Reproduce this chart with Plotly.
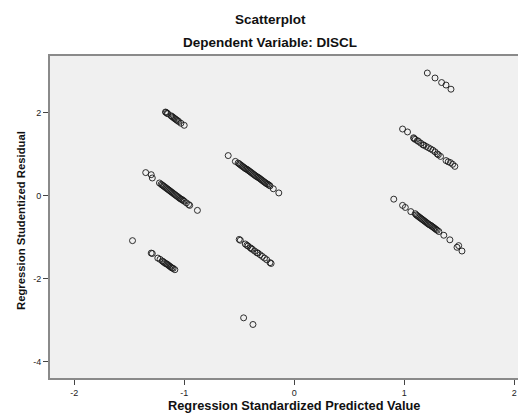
import plotly.graph_objects as go

# Regression standardized predicted value (x) and studentized residual (y), grouped by visible streak
pred_a = [-1.17, -1.165, -1.155, -1.15, -1.12, -1.11, -1.10, -1.09, -1.08, -1.07, -1.06, -1.05, -1.03, -1.00]
resid_a = [2.02, 2.01, 1.99, 1.98, 1.93, 1.91, 1.89, 1.87, 1.85, 1.83, 1.81, 1.79, 1.75, 1.70]

pred_b = [-1.35, -1.30, -1.29, -1.225, -1.21, -1.20, -1.19, -1.18, -1.17, -1.16, -1.15, -1.14, -1.13,
          -1.12, -1.11, -1.10, -1.09, -1.08, -1.07, -1.06, -1.05, -1.04, -1.03, -1.02, -1.01, -1.00,
          -0.98, -0.96, -0.95, -0.88]
resid_b = [0.56, 0.51, 0.43, 0.31, 0.28, 0.26, 0.24, 0.22, 0.20, 0.18, 0.16, 0.14, 0.12,
           0.10, 0.08, 0.06, 0.04, 0.02, 0.00, -0.02, -0.04, -0.06, -0.08, -0.09, -0.11, -0.13,
           -0.17, -0.21, -0.23, -0.35]

pred_c = [-1.47]
resid_c = [-1.08]

pred_d = [-1.30, -1.29, -1.24, -1.22, -1.20, -1.19, -1.18, -1.17, -1.16, -1.15, -1.14, -1.13, -1.12,
          -1.11, -1.10, -1.085]
resid_d = [-1.38, -1.39, -1.50, -1.53, -1.57, -1.59, -1.61, -1.63, -1.64, -1.66, -1.68, -1.70, -1.72,
           -1.74, -1.75, -1.78]

pred_e = [-0.60, -0.535, -0.51, -0.50, -0.49, -0.48, -0.47, -0.46, -0.45, -0.44, -0.43, -0.42, -0.41,
          -0.40, -0.39, -0.38, -0.37, -0.36, -0.35, -0.34, -0.33, -0.32, -0.31, -0.30, -0.29, -0.28,
          -0.27, -0.26, -0.25, -0.24, -0.23, -0.22, -0.19, -0.14]
resid_e = [0.97, 0.83, 0.79, 0.77, 0.75, 0.73, 0.71, 0.69, 0.67, 0.65, 0.64, 0.62, 0.60,
           0.58, 0.56, 0.54, 0.52, 0.50, 0.48, 0.46, 0.45, 0.43, 0.41, 0.39, 0.37, 0.35,
           0.33, 0.31, 0.29, 0.28, 0.26, 0.24, 0.17, 0.07]

pred_f = [-0.50, -0.49, -0.445, -0.43, -0.42, -0.40, -0.39, -0.38, -0.36, -0.34, -0.33, -0.31, -0.29,
          -0.27, -0.25, -0.22, -0.21]
resid_f = [-1.05, -1.07, -1.16, -1.19, -1.21, -1.25, -1.27, -1.29, -1.33, -1.37, -1.38, -1.42, -1.46,
           -1.50, -1.54, -1.61, -1.63]

pred_g = [-0.46, -0.375]
resid_g = [-2.94, -3.10]

pred_h = [1.21, 1.28, 1.34, 1.38, 1.425]
resid_h = [2.96, 2.84, 2.73, 2.67, 2.57]

pred_i = [0.985, 1.03, 1.085, 1.09, 1.10, 1.12, 1.13, 1.15, 1.17, 1.18, 1.20, 1.22, 1.24, 1.26, 1.28,
          1.30, 1.31, 1.33, 1.38, 1.40, 1.42, 1.44, 1.46]
resid_i = [1.61, 1.54, 1.40, 1.38, 1.36, 1.33, 1.31, 1.27, 1.23, 1.22, 1.19, 1.16, 1.13, 1.10, 1.06,
           1.01, 0.99, 0.95, 0.85, 0.82, 0.80, 0.76, 0.71]

pred_j = [0.905, 0.985, 1.01, 1.06, 1.10, 1.11, 1.12, 1.13, 1.14, 1.15, 1.16, 1.17, 1.18, 1.19, 1.20,
          1.21, 1.22, 1.23, 1.24, 1.25, 1.26, 1.27, 1.28, 1.29, 1.30, 1.315, 1.36, 1.415, 1.48, 1.495, 1.525]
resid_j = [-0.08, -0.23, -0.28, -0.38, -0.43, -0.46, -0.48, -0.50, -0.52, -0.54, -0.56, -0.58, -0.60,
           -0.62, -0.64, -0.66, -0.68, -0.70, -0.71, -0.73, -0.75, -0.77, -0.79, -0.81, -0.83, -0.86,
           -0.95, -1.06, -1.24, -1.20, -1.33]

x_ticks = [-2, -1, 0, 1, 2]
y_ticks = [-4, -2, 0, 2]

pred = pred_a + pred_b + pred_c + pred_d + pred_e + pred_f + pred_g + pred_h + pred_i + pred_j
resid = resid_a + resid_b + resid_c + resid_d + resid_e + resid_f + resid_g + resid_h + resid_i + resid_j

FONT = "Liberation Sans, Arial, sans-serif"

# page body has an 8px margin; figure sized to fit inside 526x416 window
OFF = 8
W, H = 526 - OFF, 416 - OFF
PL, PR, PT, PB = 50 - OFF, 526 - OFF, 56 - OFF, 378 - OFF   # plot-area edges in figure pixels
PW, PH = PR - PL, PB - PT


def px_x(x_page):
    return (x_page - OFF - PL) / PW


def px_y(y_page):
    return (PB - (y_page - OFF)) / PH


fig = go.Figure()
fig.add_trace(go.Scatter(
    x=pred, y=resid, mode="markers",
    marker=dict(symbol="circle-open", size=6, color="rgba(25,25,25,0.9)", line=dict(width=1)),
    hoverinfo="x+y", showlegend=False,
))

fig.update_layout(
    width=W, height=H,
    margin=dict(l=PL, r=W - PR, t=PT, b=H - PB, pad=0),
    paper_bgcolor="white", plot_bgcolor="#f0f0f0",
    font=dict(family=FONT, size=9, color="#222"),
    xaxis=dict(range=[-2.22, 2.107], tickvals=x_ticks, ticktext=[str(v) for v in x_ticks],
               showgrid=False, zeroline=False, showline=True, linecolor="#8a8a8a", linewidth=2,
               mirror=True, ticks="outside", ticklen=5, tickcolor="#444", tickwidth=1,
               tickfont=dict(size=9, family=FONT, color="#222")),
    yaxis=dict(range=[-4.39, 3.37], tickvals=y_ticks, ticktext=[str(v) for v in y_ticks],
               showgrid=False, zeroline=False, showline=True, linecolor="#8a8a8a", linewidth=2,
               ticks="outside", ticklen=5, tickcolor="#444", tickwidth=1,
               tickfont=dict(size=9, family=FONT, color="#222")),
    annotations=[
        dict(text="<b>Scatterplot</b>", x=px_x(270), y=px_y(19), xref="paper", yref="paper",
             showarrow=False, font=dict(size=13.5, family=FONT, color="#111"),
             xanchor="center", yanchor="middle"),
        dict(text="<b>Dependent Variable: DISCL</b>", x=px_x(270), y=px_y(43), xref="paper", yref="paper",
             showarrow=False, font=dict(size=13.5, family=FONT, color="#111"),
             xanchor="center", yanchor="middle"),
        dict(text="<b>Regression Standardized Predicted Value</b>", x=0, y=px_y(405), xref="x", yref="paper",
             showarrow=False, font=dict(size=12.8, family=FONT, color="#111"),
             xanchor="center", yanchor="middle"),
        dict(text="<b>Regression Studentized Residual</b>", x=px_x(21), y=px_y(221), xref="paper", yref="paper",
             showarrow=False, textangle=-90, font=dict(size=11.3, family=FONT, color="#111"),
             xanchor="center", yanchor="middle"),
    ],
)

fig.write_html("out.html")
